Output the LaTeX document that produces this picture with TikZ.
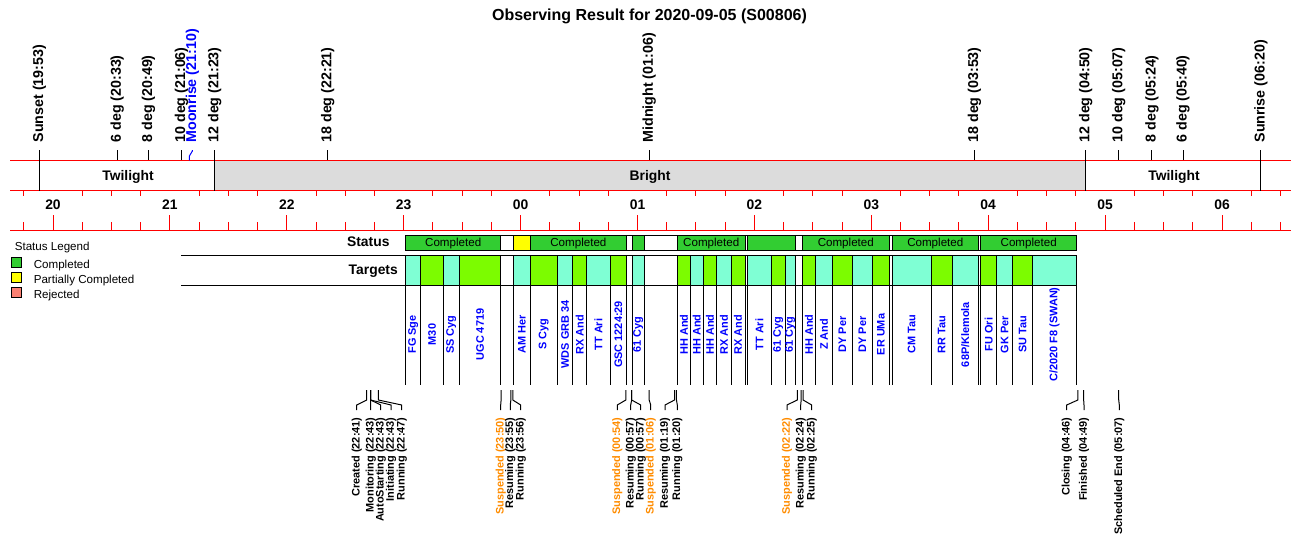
\documentclass[tikz,border=0pt]{standalone}
\usepackage{fontspec}
\setmainfont{Liberation Sans}
\usepackage{tikz}
\usetikzlibrary{calc}
\definecolor{bandred}{RGB}{255,0,0}
\definecolor{brightgrey}{RGB}{220,220,220}
\definecolor{statgreen}{RGB}{50,205,50}
\definecolor{partyellow}{RGB}{255,255,0}
\definecolor{rejsalmon}{RGB}{250,128,114}
\definecolor{tgtaqua}{RGB}{127,255,212}
\definecolor{tgtgreen}{RGB}{124,252,0}
\definecolor{tgtblue}{RGB}{0,0,255}
\definecolor{susporange}{RGB}{255,140,0}
% x position (px) of a clock time, hours past midnight written as 24..30
\newcommand{\tpos}[2]{(53+116.9*((#1)+(#2)/60-20))}
\tikzstyle{text_title} = [inner sep=0pt, font=\fontsize{12}{14}\selectfont\bfseries]
\tikzstyle{text_head} = [inner sep=0pt, font=\fontsize{10.4}{12}\selectfont\bfseries]
\tikzstyle{text_small} = [inner sep=0pt, font=\fontsize{8.7}{10}\selectfont]
\tikzstyle{label_top} = [rotate=90, anchor=west, inner xsep=5.25pt, inner ysep=0pt, font=\fontsize{10.7}{12}\selectfont\bfseries]
\tikzstyle{label_event} = [rotate=90, anchor=east, inner xsep=5.25pt, inner ysep=0pt, font=\fontsize{8.2}{9}\selectfont\bfseries]
\tikzstyle{label_target} = [rotate=90, inner sep=0pt, text=tgtblue, font=\fontsize{8.2}{9}\selectfont\bfseries]
\tikzstyle{edge_band} = [bandred]
\begin{document}
\begin{tikzpicture}[x=0.75pt, y=-0.75pt, line width=0.75pt]
	\useasboundingbox (0,0) rectangle (1300,560);
	\node[text_title, anchor=base] (title) at (649.5,20.7) {Observing Result for 2020-09-05 (S00806)};

	% sky band
	\fill[brightgrey] ({\tpos{21}{23}},160.3) rectangle ({\tpos{28}{50}},190.7);
	\node[text_head, anchor=base] (twieve) at (128,180) {Twilight};
	\node[text_head, anchor=base] (bright) at (650,180) {Bright};
	\node[text_head, anchor=base] (twimorn) at (1174,180) {Twilight};
	\draw[edge_band] (10,160.3) -- (1291,160.3);
	\draw[edge_band] (10,190.7) -- (1291,190.7);
	\draw[edge_band] (10,230) -- (1291,230);
	\foreach \q in {-1,...,42} {
		\pgfmathsetmacro\qx{53+116.9*\q/4}
		\pgfmathtruncatemacro\qm{mod(\q+4,4)}
		\draw[edge_band] (\qx,230) -- (\qx,222);
		\ifnum\qm>0 \draw[edge_band] (\qx,190.7) -- (\qx,195.7); \fi
	}
	\foreach \h [count=\i from 0] in {20,21,22,23,00,01,02,03,04,05,06} {
		\node[text_head, anchor=base] (hour\i) at ({53+116.9*\i},209) {\h};
		\draw[edge_band] ({53+116.9*\i},230) -- ({53+116.9*\i},215);
	}

	% sun and twilight times
	\foreach \h/\m/\yb/\txt [count=\i] in {
		19/53/190.7/Sunset (19:53),
		20/33/160.3/6 deg (20:33),
		20/49/160.3/8 deg (20:49),
		21/6/160.3/10 deg (21:06),
		21/23/190.7/12 deg (21:23),
		22/21/160.3/18 deg (22:21),
		25/6/160.3/Midnight (01:06),
		27/53/160.3/18 deg (03:53),
		28/50/190.7/12 deg (04:50),
		29/7/160.3/10 deg (05:07),
		29/24/160.3/8 deg (05:24),
		29/40/160.3/6 deg (05:40),
		30/20/190.7/Sunrise (06:20)} {
		\node[label_top] (sky\i) at ({\tpos{\h}{\m}},150) {\txt};
		\draw (sky\i.west) -- ({\tpos{\h}{\m}},\yb);
	}
	\node[label_top, text=tgtblue] (moonrise) at (192.4,150) {Moonrise (21:10)};
	\draw[tgtblue] (moonrise.west) -- (192.4,151) -- ({\tpos{21}{10}},156) -- ({\tpos{21}{10}},160.3);

	% legend
	\node[text_small, anchor=base west] (legtitle) at (14.3,250) {Status Legend};
	\foreach \y/\col/\txt [count=\i] in {262.3/statgreen/Completed, 277.7/partyellow/Partially Completed, 292.7/rejsalmon/Rejected} {
		\draw[fill=\col] (11,\y-5) rectangle (21.7,\y+5);
		\node[text_small, anchor=base west] (leg\i) at (33.3,\y+6) {\txt};
	}

	% status row
	\node[text_head, anchor=base east] (status) at (390,246) {Status};
	\draw[fill=white] (405.7,235) rectangle (1076.7,250.7);
	\foreach \xa/\xb/\col/\txt [count=\i] in {
		405.7/500.7/statgreen/Completed,
		513.3/530.3/partyellow/,
		530.3/626.5/statgreen/Completed,
		632.3/644.3/statgreen/,
		677.5/745/statgreen/Completed,
		747.7/795.3/statgreen/,
		802.3/889.3/statgreen/Completed,
		892.3/978.3/statgreen/Completed,
		980.7/1076.7/statgreen/Completed} {
		\draw[fill=\col] (\xa,235) rectangle (\xb,250.7);
		\node[text_small, anchor=base] (st\i) at ({(\xa+\xb)/2},246.5) {\txt};
	}

	% targets row
	\node[text_head, anchor=base east] (targets) at (398.3,274) {Targets};
	\foreach \xa/\xb/\col/\txt [count=\i] in {
		405.7/420.7/tgtaqua/FG Sge,
		420.7/443.3/tgtgreen/M30,
		443.3/459.3/tgtaqua/SS Cyg,
		459.3/500.7/tgtgreen/UGC 4719,
		513.3/530.3/tgtaqua/AM Her,
		530.3/557.3/tgtgreen/S Cyg,
		557.3/572.7/tgtaqua/WDS GRB 34,
		572.7/586.7/tgtgreen/RX And,
		586.7/610.3/tgtaqua/TT Ari,
		610.3/626.5/tgtgreen/GSC 1224:29,
		632.3/644.3/tgtaqua/61 Cyg,
		677.5/690.3/tgtgreen/HH And,
		690.3/703.3/tgtaqua/HH And,
		703.3/716.7/tgtgreen/HH And,
		716.7/731/tgtaqua/RX And,
		731/745/tgtgreen/RX And,
		747.7/771/tgtaqua/TT Ari,
		771/785.3/tgtgreen/61 Cyg,
		785.3/795.3/tgtaqua/61 Cyg,
		802.3/815.7/tgtgreen/HH And,
		815.7/832.3/tgtaqua/Z And,
		832.3/852.3/tgtgreen/DY Per,
		852.3/872.3/tgtaqua/DY Per,
		872.3/889.3/tgtgreen/ER UMa,
		892.3/931/tgtaqua/CM Tau,
		931/952.3/tgtgreen/RR Tau,
		952.3/978.3/tgtaqua/{68P/Klemola},
		980.7/996.7/tgtgreen/FU Ori,
		996.7/1012.7/tgtaqua/GK Per,
		1012.7/1032.3/tgtgreen/SU Tau,
		1032.3/1076.7/tgtaqua/{C/2020 F8 (SWAN)}} {
		\fill[\col] (\xa,255.3) rectangle (\xb,285.3);
		\draw (\xa,255.3) -- (\xa,385) (\xb,255.3) -- (\xb,385);
		\node[label_target] (tgt\i) at ({(\xa+\xb)/2},334.5) {\txt};
	}
	\draw (181,255.3) -- (1076.7,255.3);
	\draw (181,285.3) -- (1076.7,285.3);

	% observing log
	\foreach \h/\m/\lx/\col/\txt [count=\i] in {
		22/41/356.7/black/Created (22:41),
		22/43/370.7/black/Monitoring (22:43),
		22/43/380.7/black/AutoStarting (22:43),
		22/43/391/black/Initiating (22:43),
		22/47/401.7/black/Running (22:47),
		23/50/500.7/susporange/Suspended (23:50),
		23/55/510.3/black/Resuming (23:55),
		23/56/520.7/black/Running (23:56),
		24/54/617.3/susporange/Suspended (00:54),
		24/57/630.7/black/Resuming (00:57),
		24/57/640.7/black/Running (00:57),
		25/6/650.7/susporange/Suspended (01:06),
		25/19/665/black/Resuming (01:19),
		25/20/677.3/black/Running (01:20),
		26/22/787/susporange/Suspended (02:22),
		26/24/800.7/black/Resuming (02:24),
		26/25/811.7/black/Running (02:25),
		28/46/1066.7/black/Closing (04:46),
		28/49/1084/black/Finished (04:49),
		29/7/1119.3/black/Scheduled End (05:07)} {
		\coordinate (log\i) at ({\tpos{\h}{\m}},390);
		\node[label_event, text=\col] (msg\i) at (\lx,410) {\txt};
		\draw (log\i) -- ++(0,10) -- ($(msg\i.east)+(0,-5)$) -- (msg\i.east);
	}
\end{tikzpicture}
\end{document}
